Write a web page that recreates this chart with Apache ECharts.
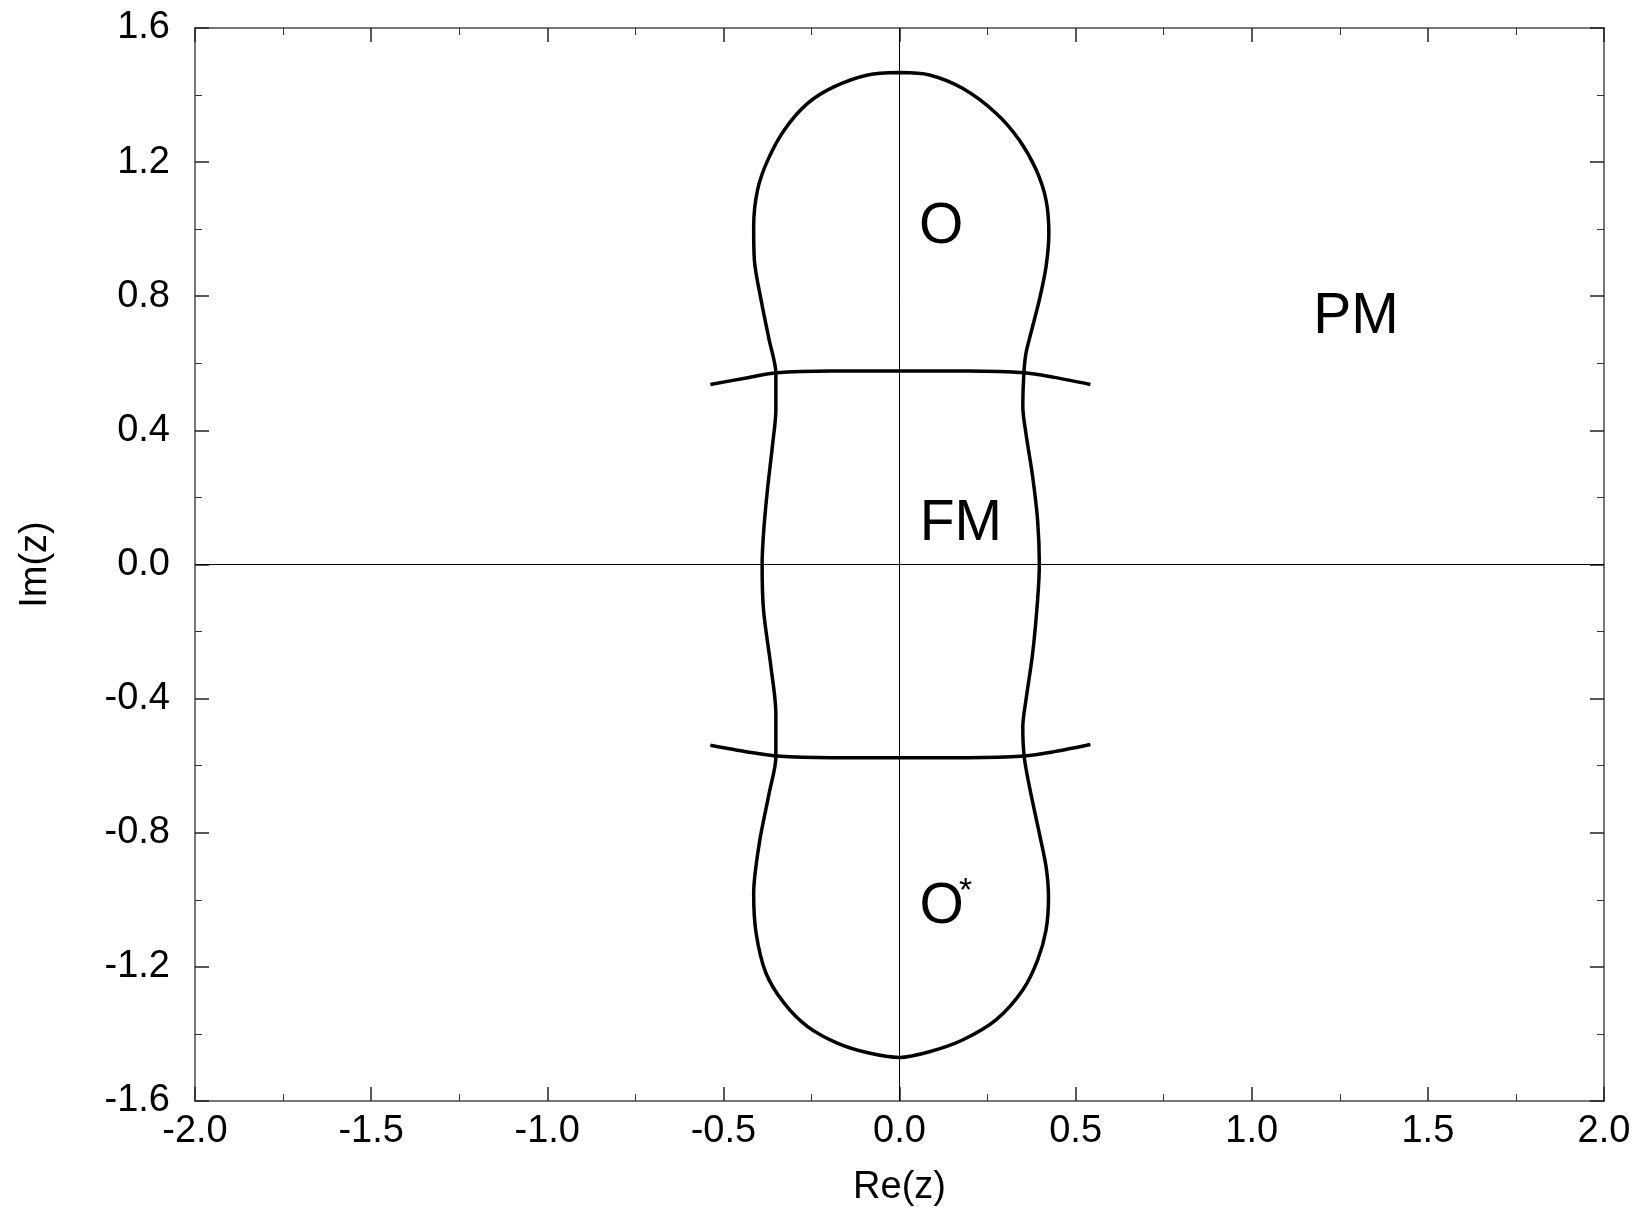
<!DOCTYPE html>
<html>
<head>
<meta charset="utf-8">
<script src="https://cdn.jsdelivr.net/npm/echarts@6/dist/echarts.min.js"></script>
<style>
  html, body { margin: 0; padding: 0; background: #fff; }
  #chart { width: 1641px; height: 1214px; }
</style>
</head>
<body>
<div id="chart"></div>
<script>
// ---- data ----
const xTickLabels = ['-2.0', '-1.5', '-1.0', '-0.5', '0.0', '0.5', '1.0', '1.5', '2.0'];
const yTickLabels = ['-1.6', '-1.2', '-0.8', '-0.4', '0.0', '0.4', '0.8', '1.2', '1.6'];

// closed phase boundary (top -> right side -> bottom -> left side -> top)
const contourRight = [
  [0.000, 1.467], [0.085, 1.460], [0.179, 1.420], [0.274, 1.346], [0.340, 1.266],
  [0.388, 1.177], [0.416, 1.087], [0.424, 0.988], [0.416, 0.888], [0.397, 0.789],
  [0.373, 0.690], [0.359, 0.630], [0.353, 0.570], [0.350, 0.471], [0.359, 0.391],
  [0.378, 0.262], [0.392, 0.133], [0.397, 0.000], [0.392, -0.106], [0.378, -0.265],
  [0.359, -0.404], [0.350, -0.484], [0.354, -0.573], [0.369, -0.663], [0.397, -0.802],
  [0.416, -0.901], [0.423, -0.991], [0.416, -1.090], [0.392, -1.180], [0.350, -1.269],
  [0.274, -1.358], [0.179, -1.418], [0.085, -1.453], [0.000, -1.470]
];
const contourLeft = [
  [-0.090, -1.456], [-0.175, -1.428], [-0.261, -1.378], [-0.327, -1.309], [-0.379, -1.219],
  [-0.407, -1.100], [-0.414, -0.981], [-0.398, -0.831], [-0.370, -0.682], [-0.351, -0.573],
  [-0.351, -0.444], [-0.365, -0.305], [-0.386, -0.136], [-0.390, 0.000], [-0.386, 0.093],
  [-0.376, 0.212], [-0.360, 0.361], [-0.351, 0.461], [-0.351, 0.570], [-0.370, 0.670],
  [-0.393, 0.789], [-0.412, 0.908], [-0.414, 1.007], [-0.403, 1.117], [-0.374, 1.206],
  [-0.327, 1.296], [-0.261, 1.375], [-0.185, 1.425], [-0.090, 1.460], [0.000, 1.467]
];
const upperArc = [
  [-0.537, 0.537], [-0.431, 0.557], [-0.349, 0.572], [-0.194, 0.577], [0.000, 0.577],
  [0.194, 0.577], [0.354, 0.572], [0.440, 0.558], [0.542, 0.537]
];
const lowerArc = [
  [-0.537, -0.539], [-0.431, -0.559], [-0.349, -0.571], [-0.194, -0.576], [0.000, -0.576],
  [0.194, -0.576], [0.354, -0.571], [0.440, -0.558], [0.542, -0.537]
];
const zeroLineH = [[-2, 0], [2, 0]];
const zeroLineV = [[0, -1.6], [0, 1.6]];

// region labels: text and anchor (data coordinates)
const regionNames = ['O', 'FM', 'PM', 'O', '*'];
const regionAnchors = [[0.118, 1.005], [0.174, 0.120], [1.296, 0.737], [0.120, -1.022], [0.188, -0.975]];

// ---- chart ----
const FONT = "'Liberation Sans', Arial, Helvetica, sans-serif";
const X_MIN = -2, X_MAX = 2, X_INT = 0.5;
const Y_MIN = -1.6, Y_MAX = 1.6, Y_INT = 0.4;

function xFmt(v) { return xTickLabels[Math.round((v - X_MIN) / X_INT)] || ''; }
function yFmt(v) { return yTickLabels[Math.round((v - Y_MIN) / Y_INT)] || ''; }

const axisLineStyle = { color: '#777', width: 2 };
const tickStyle = { color: '#222', width: 1.5 };
const minorStyle = { color: '#333', width: 1 };

function makeX(pos, showLabel) {
  return {
    type: 'value', position: pos, min: X_MIN, max: X_MAX, interval: X_INT,
    name: showLabel ? 'Re(z)' : '', nameLocation: 'middle', nameGap: 68,
    nameTextStyle: { fontFamily: FONT, fontSize: 38, color: '#000' },
    axisLine: { show: true, onZero: false, lineStyle: axisLineStyle },
    axisTick: { show: true, inside: true, length: 14, lineStyle: tickStyle },
    minorTick: { show: true, splitNumber: 2, length: 7, lineStyle: minorStyle },
    splitLine: { show: false }, minorSplitLine: { show: false },
    axisLabel: { show: showLabel, formatter: xFmt, margin: 12, fontFamily: FONT, fontSize: 38, color: '#000' }
  };
}
function makeY(pos, showLabel) {
  return {
    type: 'value', position: pos, min: Y_MIN, max: Y_MAX, interval: Y_INT,
    name: showLabel ? 'Im(z)' : '', nameLocation: 'middle', nameGap: 140,
    nameTextStyle: { fontFamily: FONT, fontSize: 38, color: '#000' },
    axisLine: { show: true, onZero: false, lineStyle: axisLineStyle },
    axisTick: { show: true, inside: true, length: 14, lineStyle: tickStyle },
    minorTick: { show: true, splitNumber: 2, length: 7, lineStyle: minorStyle },
    splitLine: { show: false }, minorSplitLine: { show: false },
    axisLabel: { show: showLabel, formatter: yFmt, margin: 25, fontFamily: FONT, fontSize: 38, color: '#000' }
  };
}

function curve(data, width, smooth) {
  return {
    type: 'line', data: data, xAxisIndex: 0, yAxisIndex: 0,
    showSymbol: false, symbol: 'none', smooth: smooth, silent: true,
    lineStyle: { color: '#000', width: width }, z: 3
  };
}

const labelData = regionNames.map((n, i) => ({
  value: regionAnchors[i], name: n,
  label: { fontSize: n === '*' ? 34 : 57 }
}));

const option = {
  animation: false,
  backgroundColor: '#fff',
  grid: { left: 195, right: 37, top: 28, bottom: 113, containLabel: false },
  xAxis: [makeX('bottom', true), makeX('top', false)],
  yAxis: [makeY('left', true), makeY('right', false)],
  series: [
    curve(zeroLineH, 1, false),
    curve(zeroLineV, 1, false),
    curve(contourRight.concat(contourLeft), 3.5, 0.3),
    curve(upperArc, 3.5, 0.3),
    curve(lowerArc, 3.5, 0.3),
    {
      type: 'scatter', data: labelData, symbolSize: 1, silent: true,
      itemStyle: { color: 'rgba(0,0,0,0)' },
      label: {
        show: true, position: 'inside', formatter: p => p.name,
        fontFamily: FONT, color: '#000', align: 'center', verticalAlign: 'middle',
        textBorderWidth: 0, textBorderColor: 'transparent', opacity: 1
      },
      z: 4
    }
  ]
};

const chart = echarts.init(document.getElementById('chart'), null, { renderer: 'canvas' });
chart.setOption(option);
</script>
</body>
</html>
